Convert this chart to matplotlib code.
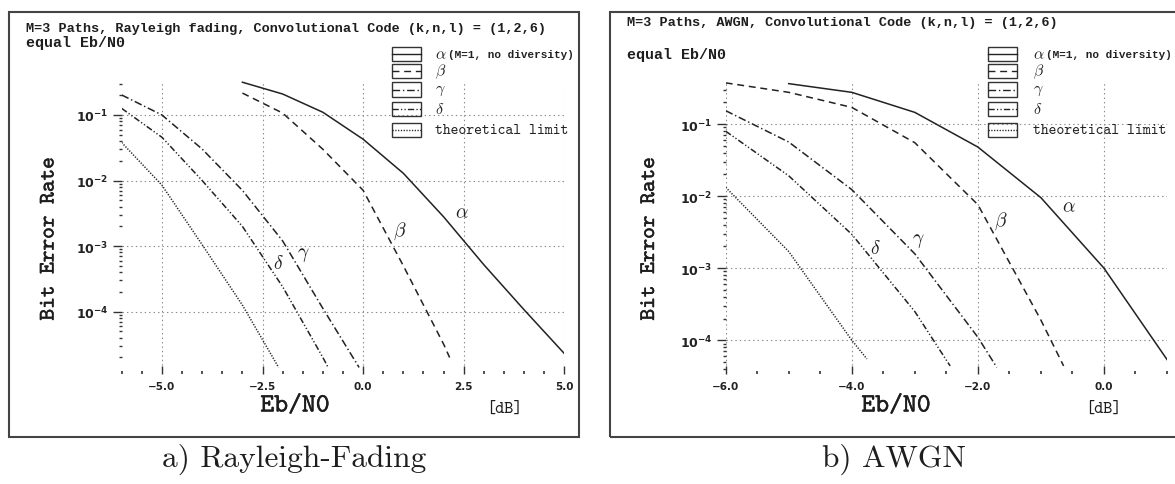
import matplotlib
matplotlib.use('Agg')
import matplotlib.pyplot as plt
import matplotlib.patheffects as pe
from matplotlib.ticker import LogLocator, MultipleLocator, FixedLocator, FixedFormatter, NullFormatter
from matplotlib.patches import Rectangle
from matplotlib.lines import Line2D

plt.rcParams['lines.scale_dashes'] = False

# ---------------- data ----------------
ray_alpha_x = [-3, -2, -1, 0, 1, 2, 3, 4, 5]
ray_alpha_y = [0.316, 0.209, 0.110, 0.0427, 0.0129, 2.8e-3, 5.2e-4, 1.07e-4, 2.3e-5]
ray_beta_x = [-3, -2, -1, 0, 1, 2, 2.15]
ray_beta_y = [0.216, 0.107, 0.030, 7.1e-3, 5.0e-4, 3.2e-5, 2.0e-5]
ray_gamma_x = [-6, -5, -4, -3, -2, -1, -0.1]
ray_gamma_y = [0.202, 0.100, 0.0302, 7.08e-3, 1.2e-3, 1.12e-4, 1.41e-5]
ray_delta_x = [-6, -5, -4, -3, -2, -1, -0.87]
ray_delta_y = [0.126, 0.0457, 0.010, 2.0e-3, 2.4e-4, 2.0e-5, 1.41e-5]
ray_theo_x = [-6, -5, -4, -3, -2.1]
ray_theo_y = [0.038, 8.5e-3, 1.05e-3, 1.26e-4, 1.41e-5]

awgn_alpha_x = [-5, -4, -3, -2, -1, 0, 1]
awgn_alpha_y = [0.363, 0.275, 0.145, 0.0479, 9.5e-3, 1.0e-3, 5.4e-5]
awgn_beta_x = [-6, -5, -4, -3, -2, -1, -0.64]
awgn_beta_y = [0.372, 0.275, 0.170, 0.055, 7.6e-3, 1.9e-4, 4.4e-5]
awgn_gamma_x = [-6, -5, -4, -3, -2, -1.7]
awgn_gamma_y = [0.153, 0.0562, 0.0123, 1.58e-3, 1.1e-4, 4.2e-5]
awgn_delta_x = [-6, -5, -4, -3, -2.44]
awgn_delta_y = [0.0794, 0.0191, 2.95e-3, 2.5e-4, 4.4e-5]
awgn_theo_x = [-6, -5, -4, -3.76]
awgn_theo_y = [0.0132, 1.7e-3, 1.0e-4, 5.5e-5]

ray_xticks = [-5.0, -2.5, 0.0, 2.5, 5.0]
ray_xticklabels = ['\u22125.0', '\u22122.5', '0.0', '2.5', '5.0']
awgn_xticks = [-6.0, -4.0, -2.0, 0.0]
awgn_xticklabels = ['\u22126.0', '\u22124.0', '\u22122.0', '0.0']
yticks = [1e-1, 1e-2, 1e-3, 1e-4]
yticklabels = [r'$\mathbf{10^{-1}}$', r'$\mathbf{10^{-2}}$', r'$\mathbf{10^{-3}}$', r'$\mathbf{10^{-4}}$']

ray_title = 'M=3 Paths, Rayleigh fading, Convolutional Code (k,n,l) = (1,2,6)'
awgn_title = 'M=3 Paths, AWGN, Convolutional Code (k,n,l) = (1,2,6)'
subtitle = 'equal Eb/N0'
legend_names = [r'$\alpha$', r'$\beta$', r'$\gamma$', r'$\delta$', 'theoretical limit']
legend_extra = '(M=1, no diversity)'
captions = ['a) Rayleigh-Fading', 'b) AWGN']

W, H = 1175, 485
fig = plt.figure(figsize=(W / 100, H / 100), dpi=100)
fig.patch.set_facecolor('white')

def fx(x):
    return x / W

def fy(y):
    return 1 - y / H

LC = '#222222'
TC = '#1e1e1e'
thick = [pe.withStroke(linewidth=0.3, foreground=TC)]
styles = [
    dict(linestyle='-'),
    dict(linestyle=(0, (5.0, 3.4))),
    dict(linestyle=(0, (5.5, 2.0, 1.0, 2.0))),
    dict(linestyle=(0, (4.5, 1.6, 0.9, 1.6, 0.9, 1.6))),
    dict(linestyle=(0, (0.9, 1.1))),
]
tick_font = dict(family='DejaVu Sans', weight='bold', size=7.5)


def make_panel(rect, xlim, ylim, series, xticks, xticklabels, labels_pos, frame_x0, title,
               title_y, sub_y):
    ax = fig.add_axes(rect)
    ax.set_yscale('log')
    ax.set_xlim(*xlim)
    ax.set_ylim(*ylim)
    for sp in ax.spines.values():
        sp.set_visible(False)
    ax.grid(True, which='major', linestyle=(0, (1, 2.2)), color='#8a8a8a', linewidth=0.8)
    ax.set_axisbelow(True)
    for (xs, ys), st in zip(series, styles):
        ax.plot(xs, ys, color=LC, linewidth=1.1, **st)
    ax.xaxis.set_major_locator(FixedLocator(xticks))
    ax.xaxis.set_major_formatter(FixedFormatter(xticklabels))
    ax.xaxis.set_minor_locator(MultipleLocator(0.5))
    ax.yaxis.set_major_locator(FixedLocator(yticks))
    ax.yaxis.set_major_formatter(FixedFormatter(yticklabels))
    ax.yaxis.set_minor_locator(LogLocator(base=10, subs=range(2, 10), numticks=20))
    ax.yaxis.set_minor_formatter(NullFormatter())
    ax.tick_params(axis='x', which='major', direction='in', length=6, width=1.0, color='#333', pad=5)
    ax.tick_params(axis='x', which='minor', direction='in', length=2.5, width=1.2, color='#333')
    ax.tick_params(axis='y', which='major', direction='out', length=6.5, width=1.0, color='#333', pad=3)
    ax.tick_params(axis='y', which='minor', direction='out', length=2.5, width=1.0, color='#333')
    for lab in ax.get_xticklabels():
        lab.set_fontproperties(tick_font)
        lab.set_color('#222')
    for lab in ax.get_yticklabels():
        lab.set_fontsize(9)
        lab.set_color('#222')
    for name, (lx, ly) in zip(legend_names[:4], labels_pos):
        ax.text(lx, ly, name, fontsize=14, math_fontfamily='cm', color=LC, ha='center', va='center')
    fig.patches.append(Rectangle((fx(frame_x0), fy(438)), fx(570), 425 / H,
                                 transform=fig.transFigure, fill=False, edgecolor='#444', linewidth=1.5))
    fig.text(fx(frame_x0 + 17.5), fy(title_y), title, family='Liberation Mono',
             weight='bold', fontsize=9.7, va='center', ha='left', color=TC)
    fig.text(fx(frame_x0 + 17.5), fy(sub_y), subtitle, family='Liberation Mono',
             weight='bold', fontsize=10.8, va='center', ha='left', color=TC)
    fig.text(fx(frame_x0 + 40), fy(240), 'Bit Error Rate', family='cmtt10',
             fontsize=16, rotation=90, ha='center', va='center', color=TC, path_effects=thick)
    return ax


ray_series = [(ray_alpha_x, ray_alpha_y), (ray_beta_x, ray_beta_y), (ray_gamma_x, ray_gamma_y),
              (ray_delta_x, ray_delta_y), (ray_theo_x, ray_theo_y)]
awgn_series = [(awgn_alpha_x, awgn_alpha_y), (awgn_beta_x, awgn_beta_y), (awgn_gamma_x, awgn_gamma_y),
               (awgn_delta_x, awgn_delta_y), (awgn_theo_x, awgn_theo_y)]

make_panel([fx(121.7), fy(375), fx(442.6), 293 / H], (-6, 5), (1.12e-5, 0.33), ray_series,
           ray_xticks, ray_xticklabels,
           [(2.45, 3.3e-3), (0.92, 1.74e-3), (-1.49, 7.6e-4), (-2.11, 5.6e-4)], 9, ray_title,
           29.3, 43.5)
make_panel([fx(725.7), fy(375), fx(441.3), 293 / H], (-6, 1), (3.4e-5, 0.395), awgn_series,
           awgn_xticks, awgn_xticklabels,
           [(-0.56, 7.4e-3), (-1.64, 4.6e-3), (-2.94, 2.5e-3), (-3.63, 1.95e-3)], 609.5, awgn_title,
           23.2, 55)

for cx, dbx in [(295, 504), (896, 1103)]:
    fig.text(fx(cx), fy(407), 'Eb/N0', family='cmtt10', fontsize=19, ha='center', va='center',
             color=TC, path_effects=thick)
    fig.text(fx(dbx), fy(409), '[dB]', family='cmtt10', fontsize=12.5, ha='center', va='center',
             color=TC)

row_y = [55, 72, 90.5, 110, 131]
for bx, tx in [(391.7, 435), (988.3, 1033)]:
    for i, (yy, st) in enumerate(zip(row_y, styles)):
        fig.patches.append(Rectangle((fx(bx), fy(yy + 7.2)), fx(29), 14.4 / H,
                                     transform=fig.transFigure, fill=False, edgecolor='#333', linewidth=1.0))
        fig.lines.append(Line2D([fx(bx), fx(bx + 29)], [fy(yy), fy(yy)], transform=fig.transFigure,
                                color=LC, linewidth=1.0, **st))
        if i < 4:
            fig.text(fx(tx), fy(yy), legend_names[i], fontsize=11.5, math_fontfamily='cm',
                     ha='left', va='center', color=LC)
        else:
            fig.text(fx(tx), fy(yy), legend_names[i], family='cmtt10', fontsize=10.8,
                     ha='left', va='center', color=LC)
    fig.text(fx(tx + 13), fy(row_y[0]), legend_extra, family='Liberation Mono', weight='bold',
             fontsize=7.9, ha='left', va='center', color=LC)

fig.text(fx(294), fy(459), captions[0], family='cmr10', fontsize=22.6, ha='center', va='center', color=TC)
fig.text(fx(894), fy(459), captions[1], family='cmr10', fontsize=22.6, ha='center', va='center', color=TC)

fig.savefig('out.png', dpi=100, facecolor='white')
